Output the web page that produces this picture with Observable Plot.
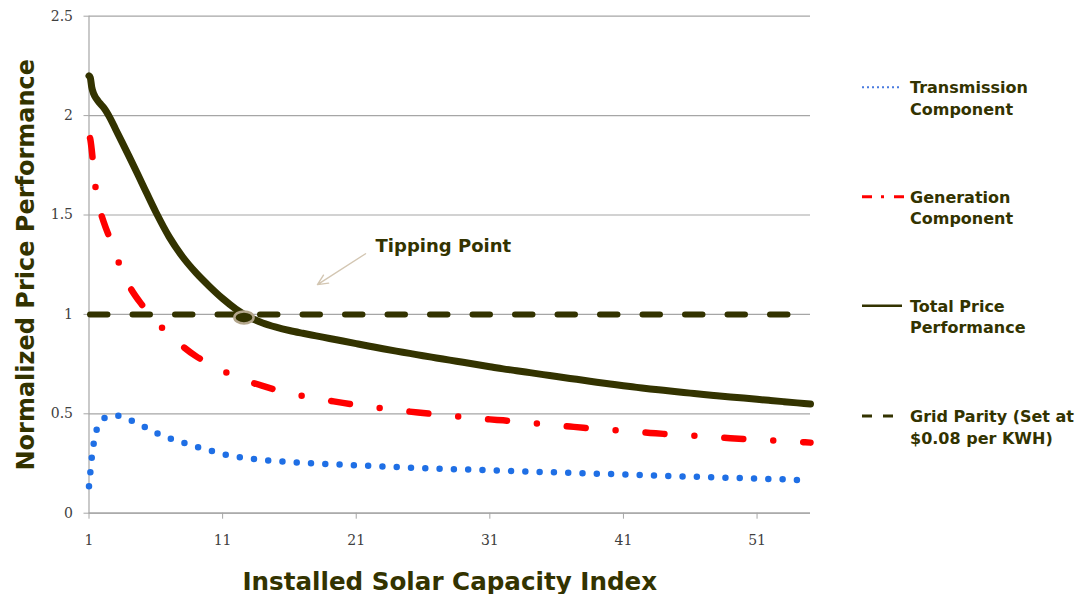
<!DOCTYPE html>
<html><head><meta charset="utf-8">
<script src="https://cdn.jsdelivr.net/npm/d3@7"></script>
<script src="https://cdn.jsdelivr.net/npm/@observablehq/plot@0.6"></script>
<style>body{margin:0;background:#fff} svg{display:block}</style>
</head><body><div id="chart"></div>
<script>
// Installed solar capacity index (x values of the scatter series)
const capacity = [1, 1.1, 1.2, 1.35, 1.55, 1.8, 2.1, 2.6, 3, 4, 5, 6, 7, 8, 9, 10, 11, 12, 13, 14, 15, 16, 17, 18, 19, 20, 21, 22, 23, 24, 25, 26, 27, 28, 29, 30, 31, 32, 33, 34, 35, 36, 37, 38, 39, 40, 41, 42, 43, 44, 45, 46, 47, 48, 49, 50, 51, 52, 53, 54, 55];
const transmission = [0.135, 0.205, 0.275, 0.35, 0.415, 0.452, 0.476, 0.488, 0.491, 0.47, 0.44, 0.405, 0.378, 0.356, 0.335, 0.317, 0.298, 0.285, 0.275, 0.268, 0.262, 0.257, 0.253, 0.25, 0.247, 0.244, 0.241, 0.238, 0.235, 0.232, 0.229, 0.226, 0.224, 0.222, 0.22, 0.218, 0.216, 0.213, 0.211, 0.209, 0.207, 0.205, 0.203, 0.201, 0.199, 0.197, 0.195, 0.193, 0.19, 0.188, 0.186, 0.184, 0.182, 0.18, 0.178, 0.176, 0.174, 0.172, 0.17, 0.167, 0.165];
const generation = [1.9, 1.88, 1.83, 1.73, 1.605, 1.53, 1.465, 1.375, 1.3, 1.145, 1.045, 0.965, 0.9, 0.84, 0.79, 0.752, 0.717, 0.688, 0.662, 0.64, 0.62, 0.604, 0.59, 0.577, 0.566, 0.555, 0.545, 0.536, 0.527, 0.519, 0.511, 0.504, 0.497, 0.49, 0.484, 0.478, 0.472, 0.467, 0.461, 0.455, 0.448, 0.442, 0.436, 0.43, 0.425, 0.42, 0.414, 0.409, 0.404, 0.399, 0.395, 0.391, 0.387, 0.382, 0.377, 0.373, 0.37, 0.367, 0.363, 0.359, 0.355];
const total = [2.2, 2.19, 2.145, 2.11, 2.085, 2.063, 2.04, 1.985, 1.93, 1.795, 1.655, 1.515, 1.39, 1.29, 1.21, 1.142, 1.08, 1.027, 0.986, 0.957, 0.936, 0.919, 0.905, 0.892, 0.879, 0.866, 0.853, 0.84, 0.827, 0.815, 0.804, 0.792, 0.781, 0.77, 0.759, 0.748, 0.737, 0.726, 0.717, 0.707, 0.697, 0.688, 0.678, 0.669, 0.659, 0.65, 0.641, 0.633, 0.625, 0.618, 0.611, 0.604, 0.597, 0.591, 0.585, 0.579, 0.573, 0.567, 0.561, 0.555, 0.549];
const gridParity = 1;
const xTicks = [1, 11, 21, 31, 41, 51];
const yTicks = [0, 0.5, 1, 1.5, 2, 2.5];
const tipPoint = [{x: 12.6, y: 0.985}];
const tipArrow = [{x1: 21.7, y1: 1.305, x2: 18.1, y2: 1.15}];
const tipLabel = [{x: 22.45, y: 1.313, text: "Tipping Point"}];
const legendItems = [
  {lines: ["Transmission", "Component"], stroke: "#4a7be0", width: 2, dash: "2,3", len: 38},
  {lines: ["Generation", "Component"], stroke: "#ff0000", width: 3, dash: "10,9,3,10", len: 43},
  {lines: ["Total Price", "Performance"], stroke: "#333300", width: 2.5, dash: null, len: 40},
  {lines: ["Grid Parity (Set at", "$0.08 per KWH)"], stroke: "#333300", width: 3, dash: "10,11", len: 31}
];

const rows = capacity.map((c, i) => ({capacity: c, transmission: transmission[i], generation: generation[i], total: total[i]}));

const ellipse = {draw(ctx, size) {
  const r = Math.sqrt(size / Math.PI), rx = r * 1.6, ry = r, k = 0.5523;
  ctx.moveTo(rx, 0);
  ctx.bezierCurveTo(rx, ry * k, rx * k, ry, 0, ry);
  ctx.bezierCurveTo(-rx * k, ry, -rx, ry * k, -rx, 0);
  ctx.bezierCurveTo(-rx, -ry * k, -rx * k, -ry, 0, -ry);
  ctx.bezierCurveTo(rx * k, -ry, rx, -ry * k, rx, 0);
  ctx.closePath();
}};

const ink = "#333300";
const grey = "#a6a6a6";
const bold = "DejaVu Sans, Verdana, sans-serif";

const chart = Plot.plot({
  width: 1084, height: 594,
  marginLeft: 88.5, marginRight: 274, marginTop: 15.7, marginBottom: 81.3,
  style: {background: "#fff"},
  x: {domain: [1, 55], label: null},
  y: {domain: [0, 2.5], label: null},
  marks: [
    Plot.gridY(yTicks, {stroke: grey, strokeOpacity: 1, strokeWidth: 1.2}),
    Plot.ruleY([0], {stroke: grey, strokeWidth: 1.2}),
    Plot.ruleX([1], {stroke: grey, strokeWidth: 1.2}),
    Plot.axisY(yTicks, {tickSize: 5, tickPadding: 11, tickFormat: d => String(d), fontFamily: "DejaVu Serif, serif", fontSize: 14, fill: "#404040", stroke: grey, label: null}),
    Plot.axisX(xTicks, {tickSize: 6, tickPadding: 16, tickFormat: d => String(d), fontFamily: "DejaVu Serif, serif", fontSize: 14, fill: "#404040", stroke: grey, label: null}),
    Plot.line(rows, {x: "capacity", y: "transmission", stroke: "#1f6fe5", strokeWidth: 6.5, strokeDasharray: "0,14.3", strokeLinecap: "round", curve: "monotone-x"}),
    Plot.line(rows, {x: "capacity", y: "generation", stroke: "#ff0000", strokeWidth: 6.5, strokeDasharray: "19,30,0,30", strokeDashoffset: -3, strokeLinecap: "round", curve: "monotone-x"}),
    Plot.line(rows, {x: "capacity", y: "total", stroke: ink, strokeWidth: 7, curve: "monotone-x"}),
    Plot.ruleY([gridParity], {stroke: ink, strokeWidth: 6, strokeDasharray: "17.5,25", strokeDashoffset: -1.5, strokeLinecap: "round"}),
    Plot.arrow(tipArrow, {x1: "x1", y1: "y1", x2: "x2", y2: "y2", stroke: "#d3c6b2", strokeWidth: 1.4, headLength: 12, headAngle: 50}),
    Plot.dot(tipPoint, {x: "x", y: "y", r: 6, symbol: ellipse, fill: ink, stroke: "#b3a68c", strokeWidth: 2.5}),
    Plot.text(tipLabel, {x: "x", y: "y", text: "text", textAnchor: "start", lineAnchor: "bottom", fontFamily: bold, fontWeight: "bold", fontSize: 18, fill: ink}),
    Plot.text(["Installed Solar Capacity Index"], {frameAnchor: "bottom", textAnchor: "middle", lineAnchor: "bottom", dy: 76.3, fontFamily: bold, fontWeight: "bold", fontSize: 24.6, fill: ink}),
    Plot.text(["Normalized Price Performance"], {frameAnchor: "left", textAnchor: "middle", lineAnchor: "bottom", rotate: -90, dx: -55.5, fontFamily: bold, fontWeight: "bold", fontSize: 24, fill: ink})
  ]
});
document.getElementById("chart").appendChild(chart);

// Legend on the right
const svg = d3.select(chart);
const lg = svg.append("g").attr("font-family", bold).attr("font-weight", "bold").attr("font-size", 16).attr("fill", ink).attr("text-anchor", "start");
const swatchY = [87.3, 196.7, 305.7, 416];
legendItems.forEach((it, i) => {
  const y = swatchY[i];
  lg.append("line").attr("x1", 862).attr("x2", 862 + it.len).attr("y1", y).attr("y2", y)
    .attr("stroke", it.stroke).attr("stroke-width", it.width)
    .attr("stroke-dasharray", it.dash);
  it.lines.forEach((t, j) => {
    lg.append("text").attr("x", 910).attr("y", y + 6 + j * 21.7).attr("text-anchor", "start").text(t);
  });
});
</script>
</body></html>
